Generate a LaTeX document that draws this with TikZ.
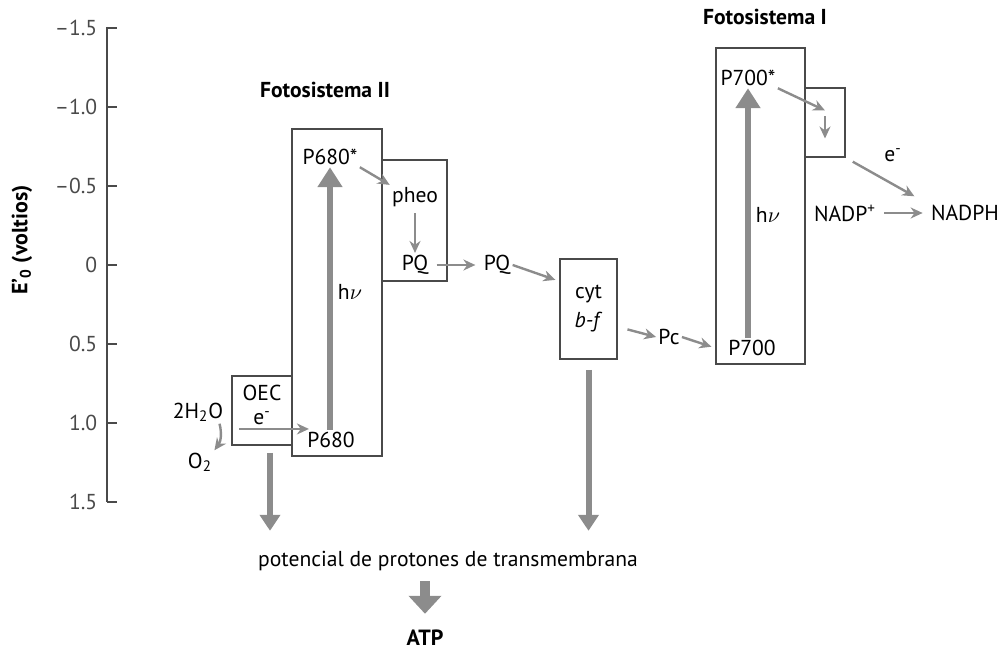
\documentclass[tikz,border=0pt]{standalone}
\usepackage{fontspec}
\setmainfont{PT Sans}
\usetikzlibrary{arrows.meta}
\definecolor{arrgray}{HTML}{8C8C8C}
\definecolor{boxgray}{HTML}{4A4A4A}
\tikzset{
  box/.style={draw=boxgray,line width=0.8pt,inner sep=0pt},
  lbl/.style={inner sep=1pt},
  thinarr/.style={draw=arrgray,line width=1.2pt,-{Stealth[length=6pt,width=5.5pt]}},
  bigarr/.style={draw=arrgray,line width=3pt,-{Triangle[length=8pt,width=10pt]}},
}
\begin{document}
\begin{tikzpicture}[x=0.5pt,y=0.5pt,font=\fontsize{10.8}{12.5}\selectfont]
  \useasboundingbox (0,0) rectangle (1008,649);
  % axis
  \draw[boxgray,line width=0.8pt] (107,622) -- (107,147);
  \foreach \v/\l in {-1.5/{–1.5},-1.0/{–1.0},-0.5/{–0.5},0/0,0.5/0.5,1.0/1.0,1.5/1.5}
    \draw[boxgray,line width=0.8pt] (107,384-\v*158) -- (117,384-\v*158)
      node[lbl,anchor=east] at (100,384-\v*158) {\l};
  \node[lbl,rotate=90,font=\fontsize{11}{13}\selectfont\bfseries] (ylab) at (22,409) {E'\textsubscript{0} (voltios)};

  % boxes
  \node[box,minimum width=45pt,minimum height=163.5pt] (psII) at (337,356.5) {};
  \node[box,minimum width=32.5pt,minimum height=60.5pt] (pheobox) at (414.5,428.5) {};
  \node[box,minimum width=28.5pt,minimum height=50pt,align=center] (cyt) at (588.5,340) {cyt\\[2pt]\textit{b-f}};
  \node[box,minimum width=44.5pt,minimum height=158pt] (psI) at (760.5,443) {};
  \node[box,minimum width=20pt,minimum height=34.5pt] (fbox) at (825,526.5) {};
  \node[box,minimum width=30pt,minimum height=34.5pt] (oec) at (262,238.5) {};

  % labels
  \node[lbl,font=\fontsize{10.8}{12.5}\selectfont\bfseries] (fsII) at (325,559) {Fotosistema II};
  \node[lbl,font=\fontsize{10.8}{12.5}\selectfont\bfseries] (fsI) at (765,632) {Fotosistema I};
  \node[lbl] (P680s) at (330,492) {P680*};
  \node[lbl] (P680) at (331,209) {P680};
  \node[lbl] (hvII) at (350,357) {h$\nu$};
  \node[lbl] (pheo) at (415,452) {pheo};
  \node[lbl] (PQa) at (415,384) {PQ};
  \node[lbl] (PQb) at (497,384) {PQ};
  \node[lbl] (Pc) at (669,312) {Pc};
  \node[lbl] (P700s) at (748,571) {P700*};
  \node[lbl] (P700) at (752,301) {P700};
  \node[lbl] (hvI) at (768,434) {h$\nu$};
  \node[lbl] (em) at (893,494) {e\textsuperscript{-}};
  \node[lbl] (NADPp) at (845,436) {NADP\textsuperscript{+}};
  \node[lbl] (NADPH) at (965,436) {NADPH};
  \node[inner sep=0pt] (oect) at (262,256) {OEC};
  \node[inner sep=0pt] (et) at (262,231) {e\textsuperscript{-}};
  \node[lbl] (H2O) at (198,237) {2H\textsubscript{2}O};
  \node[lbl] (O2) at (200,187) {O\textsubscript{2}};
  \node[lbl] (pot) at (448,88) {potencial de protones de transmembrana};
  \node[lbl,font=\fontsize{11}{13}\selectfont\bfseries] (ATP) at (425,11) {ATP};

  % electron path
  \draw[bigarr,-{Triangle[length=10pt,width=12pt]}] (P680s.south |- P680.north) -- (P680s.south);
  \draw[thinarr] (P680s.south east) -- (pheo.north west);
  \draw[thinarr,shorten <=2pt] (pheo.south) -- (PQa.north);
  \draw[thinarr,shorten <=3pt,shorten >=3pt] (PQa.east) -- (PQb.west);
  \draw[thinarr,shorten >=2pt] (PQb.east) -- ([yshift=-11.5pt]cyt.north west);
  \draw[thinarr,shorten <=5pt] (cyt.east |- Pc.north) -- (Pc.west);
  \draw[thinarr,shorten >=2pt] (Pc.east) -- (psI.west |- P700.west);
  \draw[bigarr,-{Triangle[length=10pt,width=12pt]}] (P700s.south |- P700.north) -- (P700s.south);
  \draw[thinarr] (P700s.south east) -- ([yshift=6pt]fbox.center);
  \draw[thinarr] ([yshift=3pt]fbox.center) -- ([yshift=-8pt]fbox.center);
  \draw[thinarr,shorten <=4pt] (fbox.south east) -- ([xshift=18pt,yshift=3pt]NADPp.north east);
  \draw[thinarr,shorten <=3pt,shorten >=3pt] (NADPp.east) -- (NADPH.west);
  \draw[thinarr] ([xshift=4pt,yshift=-2pt]oec.west |- et.south) -- ([xshift=2pt,yshift=-2pt]P680.west |- et.south);
  \draw[thinarr] ([xshift=-3pt]H2O.south east) to[bend left=25] (O2.north east);

  % proton gradient
  \draw[bigarr] ([xshift=4pt,yshift=-3.5pt]oec.south) -- ([xshift=4pt]oec.south |- pot.north) [shorten >=9pt];
  \draw[bigarr,shorten >=9pt] ([yshift=-5pt]cyt.south) -- (cyt.south |- pot.north);
  \draw[draw=arrgray,line width=5pt,-{Triangle[length=9pt,width=16pt]},shorten <=4pt,shorten >=7pt] (ATP.north |- pot.south) -- (ATP.north);
\end{tikzpicture}
\end{document}
